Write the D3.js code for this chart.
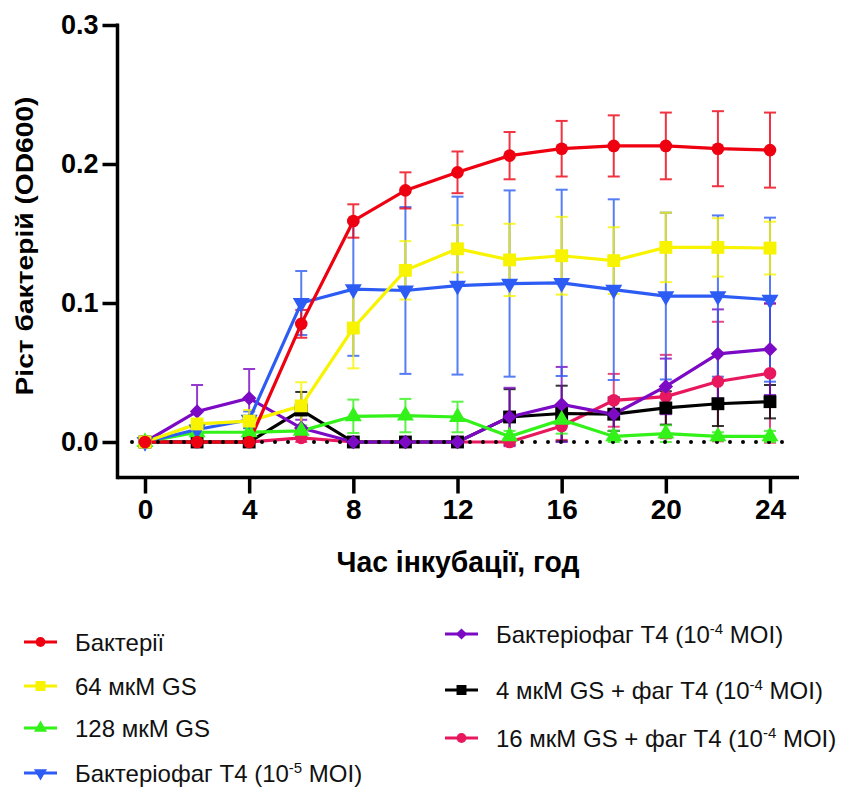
<!DOCTYPE html>
<html>
<head>
<meta charset="utf-8">
<script src="https://cdn.jsdelivr.net/npm/d3@7"></script>
<style>
  body { margin: 0; background: #fff; }
  svg text { font-family: "Liberation Sans", Arial, sans-serif; }
</style>
</head>
<body>
<script>
// time points (hours)
var hours = [0, 2, 4, 6, 8, 10, 12, 14, 16, 18, 20, 22, 24];

// mean OD600 values and error bars
var bacteria      = [0, 0, 0, 0.085, 0.159, 0.181, 0.194, 0.206, 0.211, 0.213, 0.213, 0.211, 0.210];
var bacteriaErr   = [0, 0, 0, 0.010, 0.012, 0.013, 0.015, 0.017, 0.020, 0.022, 0.024, 0.027, 0.027];
var gs64          = [0, 0.013, 0.015, 0.026, 0.082, 0.1235, 0.139, 0.131, 0.134, 0.1305, 0.140, 0.140, 0.1395];
var gs64Err       = [0, 0.003, 0.008, 0.017, 0.029, 0.021, 0.017, 0.026, 0.028, 0.024, 0.025, 0.021, 0.019];
var gs128         = [0, 0.007, 0.007, 0.008, 0.0185, 0.019, 0.018, 0.004, 0.016, 0.004, 0.006, 0.004, 0.004];
var gs128Err      = [0, 0.003, 0.003, 0.004, 0.012, 0.012, 0.011, 0.004, 0.010, 0.004, 0.006, 0.003, 0.004];
var phage5        = [0, 0.009, 0.016, 0.100, 0.110, 0.109, 0.1125, 0.114, 0.1145, 0.1096, 0.105, 0.105, 0.1024];
var phage5Err     = [0, 0.003, 0.006, 0.023, 0.048, 0.060, 0.064, 0.067, 0.067, 0.065, 0.060, 0.058, 0.059];
var phage4        = [0, 0.022, 0.0315, 0.010, 0, 0, 0, 0.018, 0.027, 0.020, 0.040, 0.0634, 0.0668];
var phage4Err     = [0, 0.019, 0.021, 0.006, 0, 0, 0, 0.021, 0.027, 0.012, 0.020, 0.032, 0.033];
var gs4Phage      = [0, 0, 0, 0.023, 0, 0, 0, 0.018, 0.0205, 0.020, 0.0245, 0.0275, 0.029];
var gs4PhageErr   = [0, 0, 0, 0.013, 0, 0, 0, 0.020, 0.020, 0.012, 0.012, 0.016, 0.012];
var gs16Phage     = [0, 0, 0, 0.003, 0, 0, 0, 0, 0.0115, 0.030, 0.0327, 0.0435, 0.0495];
var gs16PhageErr  = [0, 0, 0, 0.003, 0, 0, 0, 0, 0.010, 0.019, 0.030, 0.043, 0.050];

var xTicks = [0, 4, 8, 12, 16, 20, 24];
var yTicks = [0, 0.1, 0.2, 0.3];

// series in legend order
var series = [
    {name: "Бактерії", sup: null, tail: null, values: bacteria, err: bacteriaErr, color: "#ee0011", shape: "circle"},
    {name: "64 мкМ GS", sup: null, tail: null, values: gs64, err: gs64Err, color: "#f8f400", shape: "square"},
    {name: "128 мкМ GS", sup: null, tail: null, values: gs128, err: gs128Err, color: "#33f21a", shape: "up"},
    {name: "Бактеріофаг T4 (10", sup: "-5", tail: " MOI)", values: phage5, err: phage5Err, color: "#2d5cf5", shape: "down"},
    {name: "Бактеріофаг T4 (10", sup: "-4", tail: " MOI)", values: phage4, err: phage4Err, color: "#7c0ac4", shape: "diamond"},
    {name: "4 мкМ GS + фаг T4 (10", sup: "-4", tail: " MOI)", values: gs4Phage, err: gs4PhageErr, color: "#000000", shape: "square"},
    {name: "16 мкМ GS + фаг T4 (10", sup: "-4", tail: " MOI)", values: gs16Phage, err: gs16PhageErr, color: "#e8185e", shape: "circle"}
];

// drawing order, bottom to top
var drawOrder = [6, 5, 4, 2, 3, 1, 0];

var width = 841, height = 790;

var svg = d3.select("body").append("svg")
    .attr("width", width)
    .attr("height", height);

var x = d3.scaleLinear().domain([0, 24]).range([145, 770]);
var y = d3.scaleLinear().domain([0, 0.3]).range([442, 25]);

var axisX = 117.5, axisY = 477.5;

function symbolPath(shape, big) {
    var s = big ? 1 : 0.6;
    if (shape == "circle") return d3.symbol(d3.symbolCircle, 125 * s)();
    if (shape == "square") return d3.symbol(d3.symbolSquare, 165 * s)();
    if (shape == "up" || shape == "down") return d3.symbol(d3.symbolTriangle, 125 * s)();
    if (shape == "diamond") return d3.symbol(d3.symbolSquare, 105 * s)();
}
function symbolRotate(shape) {
    if (shape == "down") return " rotate(180)";
    if (shape == "diamond") return " rotate(45)";
    return "";
}

var line = d3.line()
    .x(function(d, i) { return x(hours[i]); })
    .y(function(d) { return y(d); });

// error bars
drawOrder.forEach(function(k) {
    var s = series[k];
    var g = svg.append("g").attr("stroke", s.color).attr("stroke-width", 2).attr("opacity", 0.8);
    s.values.forEach(function(v, i) {
        var e = s.err[i];
        if (!e) return;
        var cx = x(hours[i]);
        g.append("line").attr("x1", cx).attr("x2", cx).attr("y1", y(v - e)).attr("y2", y(v + e));
        g.append("line").attr("x1", cx - 6).attr("x2", cx + 6).attr("y1", y(v + e)).attr("y2", y(v + e));
        g.append("line").attr("x1", cx - 6).attr("x2", cx + 6).attr("y1", y(v - e)).attr("y2", y(v - e));
    });
});

// lines
drawOrder.forEach(function(k) {
    var s = series[k];
    svg.append("path")
        .datum(s.values)
        .attr("d", line)
        .attr("fill", "none")
        .attr("stroke", s.color)
        .attr("stroke-width", 3.2);
});

// dotted zero line
svg.append("line")
    .attr("x1", 132).attr("x2", 792)
    .attr("y1", y(0)).attr("y2", y(0))
    .attr("stroke", "#000")
    .attr("stroke-width", 4)
    .attr("stroke-linecap", "round")
    .attr("stroke-dasharray", "0,13");

// markers
drawOrder.forEach(function(k) {
    var s = series[k];
    svg.append("g").selectAll("path")
        .data(s.values)
        .enter()
        .append("path")
        .attr("d", symbolPath(s.shape, true))
        .attr("transform", function(d, i) { return "translate(" + x(hours[i]) + "," + y(d) + ")" + symbolRotate(s.shape); })
        .attr("fill", s.color);
});

// y axis
var gy = svg.append("g")
    .attr("transform", "translate(" + axisX + ",0)")
    .call(d3.axisLeft(y).tickValues(yTicks).tickSize(15).tickPadding(4).tickFormat(d3.format(".1f")));
gy.select(".domain").remove();
gy.selectAll(".tick line").attr("stroke", "#000").attr("stroke-width", 3.5);
gy.selectAll(".tick text")
    .attr("font-family", "Liberation Sans, Arial, sans-serif")
    .attr("font-weight", "bold")
    .attr("font-size", 27)
    .attr("fill", "#000");
svg.append("line")
    .attr("x1", axisX).attr("x2", axisX)
    .attr("y1", y(0.3) - 1.5).attr("y2", axisY + 1.75)
    .attr("stroke", "#000").attr("stroke-width", 3.5);

// x axis
var gx = svg.append("g")
    .attr("transform", "translate(0," + axisY + ")")
    .call(d3.axisBottom(x).tickValues(xTicks).tickSize(16).tickPadding(6));
gx.select(".domain").remove();
gx.selectAll(".tick line").attr("stroke", "#000").attr("stroke-width", 3.5);
gx.selectAll(".tick text")
    .attr("font-family", "Liberation Sans, Arial, sans-serif")
    .attr("font-weight", "bold")
    .attr("font-size", 28)
    .attr("fill", "#000");
svg.append("line")
    .attr("x1", axisX).attr("x2", 799)
    .attr("y1", axisY).attr("y2", axisY)
    .attr("stroke", "#000").attr("stroke-width", 3.5);

// axis titles
svg.append("text")
    .attr("x", 458).attr("y", 572)
    .attr("text-anchor", "middle")
    .attr("font-weight", "bold")
    .attr("font-size", 29)
    .attr("textLength", 243)
    .attr("lengthAdjust", "spacingAndGlyphs")
    .text("Час інкубації, год");

svg.append("text")
    .attr("transform", "translate(33,246) rotate(-90)")
    .attr("text-anchor", "middle")
    .attr("font-weight", "bold")
    .attr("font-size", 24)
    .attr("textLength", 299)
    .attr("lengthAdjust", "spacingAndGlyphs")
    .text("Ріст бактерій (OD600)");

// legend
var legendPos = [
    [24, 642], [24, 686], [24, 728], [24, 773],
    [445, 634], [445, 690], [445, 738]
];
series.forEach(function(s, k) {
    var p = legendPos[k];
    var g = svg.append("g").attr("transform", "translate(" + p[0] + "," + p[1] + ")");
    g.append("line")
        .attr("x1", 0).attr("x2", 33)
        .attr("stroke", s.color).attr("stroke-width", 3);
    g.append("path")
        .attr("d", symbolPath(s.shape, false))
        .attr("transform", "translate(16.5,0)" + symbolRotate(s.shape))
        .attr("fill", s.color);
    var t = g.append("text")
        .attr("x", 51).attr("y", 8.5)
        .attr("font-size", 24)
        .attr("fill", "#111");
    t.append("tspan").text(s.name);
    if (s.sup) {
        t.append("tspan").attr("dy", -9).attr("font-size", 15).text(s.sup);
        t.append("tspan").attr("dy", 9).text(s.tail);
    }
});
</script>
</body>
</html>
